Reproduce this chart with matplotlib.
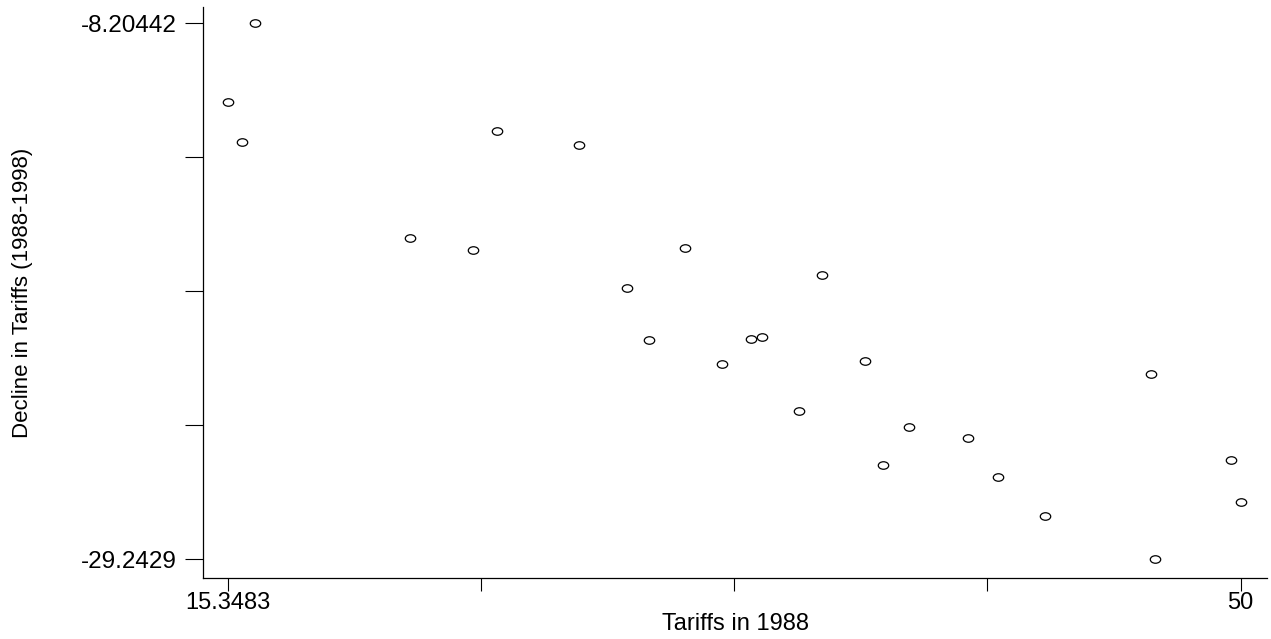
import numpy as np
import matplotlib
matplotlib.use("Agg")
import matplotlib.pyplot as plt
from matplotlib.path import Path
from matplotlib.transforms import Affine2D

# values
tariffs_1988 = [15.3483, 15.837, 16.272, 21.584, 23.719, 24.550, 27.355, 29.007,
                29.773, 31.005, 32.257, 33.249, 33.639, 34.891, 35.678, 37.162,
                37.778, 38.644, 40.662, 41.688, 43.296, 46.945, 47.082, 49.669, 50.0]
decline = [-11.293, -12.875, -8.20442, -16.643, -17.103, -12.444, -12.993, -18.618,
           -20.659, -17.048, -21.577, -20.608, -20.541, -23.422, -18.084, -21.459,
           -25.553, -24.062, -24.493, -26.036, -27.555, -21.993, -29.2429, -25.357, -27.017]

x_min, x_max = 15.3483, 50
y_min, y_max = -29.2429, -8.20442
x_ticklabels = ["15.3483", "", "", "", "50"]
y_ticklabels = ["-29.2429", "", "", "", "-8.20442"]

plt.rcParams["font.family"] = ["Liberation Sans", "DejaVu Sans"]

fig = plt.figure(figsize=(12.71, 6.39), dpi=100)
ax = fig.add_axes([203 / 1271, 1 - 578 / 639, 1064 / 1271, 571 / 639])

# the circles in the original are a little wider than tall
oval = Path.unit_circle().transformed(Affine2D().scale(1.0, 0.72))
ax.plot(tariffs_1988, decline, linestyle="none", marker=oval, markersize=7.5,
        markerfacecolor="none", markeredgecolor="black", markeredgewidth=0.9)

# axis range a bit wider than the data, as in the original
xs = (x_max - x_min) / 1012.5
ys = (y_max - y_min) / 536
ax.set_xlim(x_min - 25 * xs, x_max + 26.5 * xs)
ax.set_ylim(y_min - 19 * ys, y_max + 16 * ys)

ax.set_xticks(np.linspace(x_min, x_max, 5))
ax.set_xticklabels(x_ticklabels)
ax.set_yticks(np.linspace(y_min, y_max, 5))
ax.set_yticklabels(y_ticklabels)

ax.tick_params(axis="x", length=9, width=0.8, pad=1, labelsize=17, colors="black")
ax.tick_params(axis="y", length=13, width=0.8, pad=6, labelsize=17.5, colors="black")

for side in ["top", "right"]:
    ax.spines[side].set_visible(False)
for side in ["left", "bottom"]:
    ax.spines[side].set_linewidth(0.9)

ax.set_xlabel("Tariffs in 1988", fontsize=17)
ax.set_ylabel("Decline in Tariffs (1988-1998)", fontsize=16)
ax.xaxis.set_label_coords(0.5, (578 - 613) / 571)
ax.yaxis.set_label_coords((33 - 203) / 1064, 0.5)

fig.savefig("out.png", dpi=100)
